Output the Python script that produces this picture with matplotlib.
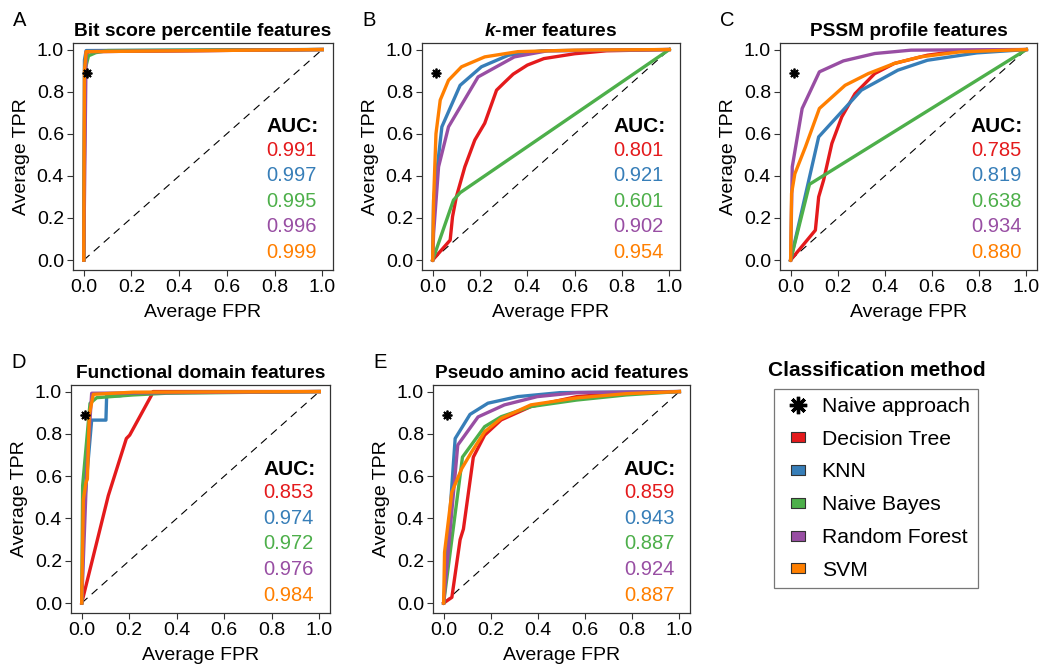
import matplotlib
matplotlib.use("Agg")
import matplotlib.pyplot as plt
from matplotlib.lines import Line2D

plt.rcParams["font.family"] = ["Liberation Sans", "DejaVu Sans"]
plt.rcParams["mathtext.fontset"] = "custom"
plt.rcParams["mathtext.bfit"] = "Liberation Sans:italic:bold"
plt.rcParams["mathtext.rm"] = "Liberation Sans:bold"

W, H = 1043, 670

methods = ["Decision Tree", "KNN", "Naive Bayes", "Random Forest", "SVM"]
colors = ["#E41A1C", "#377EB8", "#4DAF4A", "#984EA3", "#FF7F00"]

panel_letters = ["A", "B", "C", "D", "E"]
panel_titles = [
    "Bit score percentile features",
    r"$\mathbfit{k}$-mer features",
    "PSSM profile features",
    "Functional domain features",
    "Pseudo amino acid features",
]

# ROC curves: (fpr list, tpr list) per method, per panel
roc_A = [
    ([0, 0.005, 0.01, 0.02, 1], [0, 0.90, 0.98, 0.99, 1]),
    ([0, 0.003, 0.01, 1], [0, 0.95, 0.995, 1]),
    ([0, 0.005, 0.02, 0.05, 0.1, 1], [0, 0.90, 0.97, 0.985, 0.995, 1]),
    ([0, 0.01, 1], [0, 0.99, 1]),
    ([0, 0.003, 0.01, 1], [0, 0.90, 0.99, 1]),
]
roc_B = [
    ([0, 0.074, 0.084, 0.10, 0.136, 0.178, 0.22, 0.27, 0.30, 0.34, 0.40, 0.47, 0.60, 0.735, 1],
     [0, 0.095, 0.206, 0.30, 0.443, 0.57, 0.65, 0.807, 0.84, 0.883, 0.926, 0.957, 0.98, 0.994, 1]),
    ([0, 0.004, 0.039, 0.116, 0.206, 0.32, 0.46, 1],
     [0, 0.285, 0.633, 0.83, 0.918, 0.973, 0.994, 1]),
    ([0, 0.088, 0.116, 1], [0, 0.285, 0.32, 1]),
    ([0, 0.004, 0.025, 0.067, 0.192, 0.345, 0.485, 1],
     [0, 0.127, 0.443, 0.633, 0.87, 0.965, 0.994, 1]),
    ([0, 0.004, 0.014, 0.032, 0.067, 0.122, 0.22, 0.36, 0.6, 1],
     [0, 0.285, 0.60, 0.76, 0.854, 0.918, 0.965, 0.99, 0.997, 1]),
]
roc_C = [
    ([0, 0.105, 0.119, 0.14, 0.175, 0.217, 0.273, 0.357, 0.44, 0.58, 0.72, 1],
     [0, 0.142, 0.30, 0.38, 0.554, 0.68, 0.79, 0.886, 0.934, 0.973, 0.994, 1]),
    ([0, 0.119, 0.30, 0.455, 0.58, 0.79, 1],
     [0, 0.585, 0.807, 0.902, 0.949, 0.984, 1]),
    ([0, 0.08, 1], [0, 0.36, 1]),
    ([0, 0.007, 0.049, 0.122, 0.224, 0.357, 0.51, 1],
     [0, 0.443, 0.72, 0.894, 0.946, 0.981, 0.997, 1]),
    ([0, 0.004, 0.018, 0.063, 0.122, 0.231, 0.33, 0.44, 0.55, 0.72, 1],
     [0, 0.316, 0.41, 0.538, 0.72, 0.83, 0.886, 0.934, 0.965, 0.989, 1]),
]
roc_D = [
    ([0, 0.112, 0.188, 0.202, 0.293, 0.30, 1], [0, 0.508, 0.778, 0.794, 0.981, 1.0, 1]),
    ([0, 0.01, 0.042, 0.102, 0.105, 0.16, 0.25, 1],
     [0, 0.45, 0.865, 0.865, 0.98, 0.98, 0.995, 1]),
    ([0, 0.004, 0.035, 0.063, 0.216, 0.355, 1], [0, 0.555, 0.944, 0.971, 0.984, 0.992, 1]),
    ([0, 0.021, 0.042, 1], [0, 0.62, 0.992, 1]),
    ([0, 0.007, 0.018, 0.024, 0.032, 0.049, 0.216, 1],
     [0, 0.49, 0.57, 0.587, 0.89, 0.987, 0.997, 1]),
]
roc_E = [
    ([0, 0.035, 0.07, 0.084, 0.126, 0.174, 0.244, 0.37, 0.565, 0.774, 1],
     [0, 0.027, 0.30, 0.35, 0.69, 0.794, 0.866, 0.929, 0.976, 0.995, 1]),
    ([0, 0.049, 0.112, 0.188, 0.314, 0.495, 1], [0, 0.778, 0.892, 0.945, 0.976, 0.995, 1]),
    ([0, 0.08, 0.174, 0.244, 0.37, 0.565, 0.774, 1], [0, 0.69, 0.834, 0.881, 0.929, 0.96, 0.984, 1]),
    ([0, 0.06, 0.146, 0.258, 0.397, 0.565, 1], [0, 0.747, 0.88, 0.937, 0.976, 0.995, 1]),
    ([0, 0.004, 0.035, 0.077, 0.119, 0.174, 0.244, 0.37, 0.565, 0.774, 1],
     [0, 0.24, 0.525, 0.636, 0.715, 0.81, 0.873, 0.937, 0.97, 0.99, 1]),
]
rocs = [roc_A, roc_B, roc_C, roc_D, roc_E]

auc_A = ["0.991", "0.997", "0.995", "0.996", "0.999"]
auc_B = ["0.801", "0.921", "0.601", "0.902", "0.954"]
auc_C = ["0.785", "0.819", "0.638", "0.934", "0.880"]
auc_D = ["0.853", "0.974", "0.972", "0.976", "0.984"]
auc_E = ["0.859", "0.943", "0.887", "0.924", "0.887"]
aucs = [auc_A, auc_B, auc_C, auc_D, auc_E]

naive_fpr = 0.015
naive_tpr = 0.89

# axes boxes in pixels: left, top, right, bottom
boxes = [
    (73, 43, 333, 270),
    (422, 43, 680, 270),
    (780, 43, 1037, 270),
    (71, 385, 330, 613),
    (433, 385, 690, 613),
]

ticks = [0.0, 0.2, 0.4, 0.6, 0.8, 1.0]
tick_labels = ["0.0", "0.2", "0.4", "0.6", "0.8", "1.0"]

fig = plt.figure(figsize=(W / 100, H / 100), dpi=100)

for i, (l, t, r, b) in enumerate(boxes):
    ax = fig.add_axes([l / W, 1 - b / H, (r - l) / W, (b - t) / H])
    ax.plot([0, 1], [0, 1], color="black", lw=0.8, ls=(0, (7, 5)), zorder=1)
    for (fpr, tpr), c in zip(rocs[i], colors):
        ax.plot(fpr, tpr, color=c, lw=2.4, solid_joinstyle="round", zorder=2)
    ax.plot([naive_fpr], [naive_tpr], marker=(8, 2, 0), ms=7, mew=1.3,
            color="black", ls="none", zorder=3)
    ax.set_xlim(-0.045, 1.045)
    ax.set_ylim(-0.047, 1.031)
    ax.set_xticks(ticks)
    ax.set_xticklabels(tick_labels)
    ax.set_yticks(ticks)
    ax.set_yticklabels(tick_labels)
    ax.tick_params(labelsize=14, length=4, width=0.8, color="#333333", pad=2.5)
    for s in ax.spines.values():
        s.set_color("#333333")
        s.set_linewidth(0.9)
    ax.set_xlabel("Average FPR", fontsize=14, labelpad=5.5)
    ax.set_ylabel("Average TPR", fontsize=14, labelpad=5)
    ax.set_title(panel_titles[i], fontsize=13.8, fontweight="bold", pad=5)
    ax.text(0.765, 0.633, "AUC:", fontsize=15, fontweight="bold",
            ha="left", va="center")
    for k, (val, c) in enumerate(zip(aucs[i], colors)):
        ax.text(0.765, 0.522 - 0.121 * k, val, color=c, fontsize=14.5,
                ha="left", va="center")
    fig.text((l - 60) / W, 1 - (t - 22) / H, panel_letters[i], fontsize=14.5,
             ha="left", va="center")

# legend
fig.text(768 / W, 1 - 371 / H, "Classification method", fontsize=15,
         fontweight="bold", ha="left", va="center")
rect = [(-0.7, -0.5), (0.7, -0.5), (0.7, 0.5), (-0.7, 0.5), (-0.7, -0.5)]
handles = [Line2D([], [], marker=(8, 2, 0), ms=12.5, mew=2.4, color="black", ls="none")]
handles += [Line2D([], [], marker=rect, ms=10, mfc=c, mec="#333333", mew=0.8, ls="none")
            for c in colors]
labels = ["Naive approach"] + methods
leg = fig.legend(handles, labels, loc="upper left",
                 bbox_to_anchor=(774 / W, 1 - 389 / H), borderaxespad=0,
                 fontsize=15.2, frameon=True, fancybox=False, edgecolor="#555555",
                 labelspacing=0.65, handlelength=1.47, handleheight=0.7,
                 handletextpad=0.41, borderpad=0.38)
leg.get_frame().set_linewidth(0.9)

fig.savefig("out.png", dpi=100)
